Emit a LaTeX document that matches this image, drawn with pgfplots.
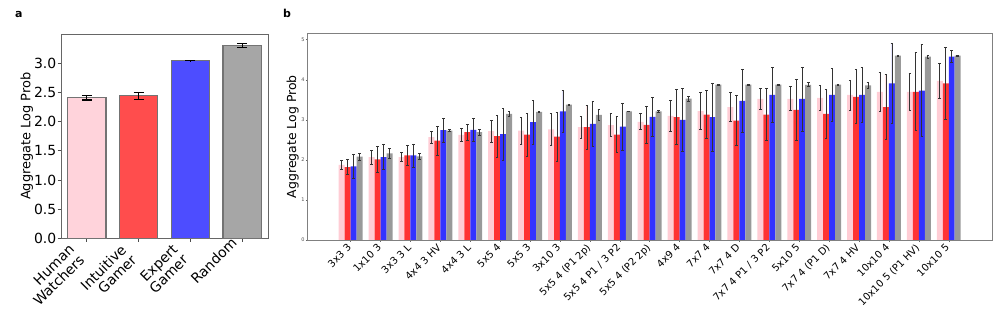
\documentclass[border=0pt]{standalone}
\usepackage{fontspec}
\setmainfont{DejaVu Sans}
\usepackage{pgfplots}
\usepackage{pgfplotstable}
\pgfplotsset{compat=1.18}

\definecolor{pinkA}{RGB}{255,211,219}
\definecolor{redA}{RGB}{255,77,77}
\definecolor{blueA}{RGB}{77,77,255}
\definecolor{grayA}{RGB}{166,166,166}
\definecolor{pinkB}{RGB}{255,205,213}
\definecolor{redB}{RGB}{255,51,51}
\definecolor{blueB}{RGB}{51,51,255}
\definecolor{grayB}{RGB}{153,153,153}

\pgfplotstableread{
x p pe r re b be g ge
0 1.875 0.11 1.82 0.19 1.84 0.30 2.08 0.09
1 2.07 0.18 2.01 0.32 2.07 0.31 2.16 0.12
2 2.07 0.11 2.11 0.25 2.11 0.29 2.09 0.07
3 2.57 0.15 2.48 0.36 2.74 0.29 2.73 0.02
4 2.625 0.16 2.69 0.19 2.75 0.28 2.69 0.08
5 2.72 0.27 2.59 0.53 2.64 0.64 3.15 0.065
6 2.73 0.34 2.63 0.54 2.94 0.55 3.20 0.02
7 2.76 0.40 2.58 0.61 3.21 0.53 3.38 0.01
8 2.82 0.27 2.82 0.55 2.90 0.57 3.125 0.13
9 2.87 0.28 2.63 0.45 2.83 0.59 3.21 0.01
10 2.95 0.20 2.875 0.47 3.075 0.49 3.21 0.02
11 3.10 0.38 3.07 0.68 3.00 0.78 3.53 0.06
12 3.22 0.47 3.13 0.60 3.07 0.85 3.88 0.01
13 3.32 0.36 2.98 0.62 3.475 0.79 3.88 0.01
14 3.52 0.27 3.13 0.65 3.62 0.68 3.88 0.01
15 3.525 0.30 3.25 0.75 3.52 0.80 3.875 0.05
16 3.55 0.31 3.15 0.60 3.62 0.67 3.88 0.01
17 3.62 0.375 3.575 0.675 3.625 0.68 3.86 0.065
18 3.70 0.48 3.32 0.81 3.91 1.01 4.60 0.01
19 3.70 0.46 3.70 0.975 3.73 1.15 4.58 0.04
20 3.975 0.44 3.91 0.91 4.58 0.15 4.60 0.01
}\dataB

\pgfplotsset{
  errA/.style={error bars/.cd, y dir=both, y explicit,
    error bar style={draw=black, line width=1.1bp},
    error mark options={draw=black, rotate=90, mark size=5bp, line width=1.1bp}},
  errB/.style={error bars/.cd, y dir=both, y explicit,
    error bar style={draw=black!80, line width=0.8bp},
    error mark options={draw=black!80, rotate=90, mark size=1.3bp, line width=0.7bp}},
}

\begin{document}
\begin{tikzpicture}
\useasboundingbox (0,0) rectangle (997bp,313bp);
\node[font=\bfseries\fontsize{11}{13}\selectfont, anchor=base west, inner sep=0pt] at (15bp,295bp) {a};
\node[font=\bfseries\fontsize{11}{13}\selectfont, anchor=base west, inner sep=0pt] at (283bp,295bp) {b};

\begin{axis}[
  at={(61bp,74.7bp)}, anchor=south west, scale only axis,
  width=207bp, height=204.3bp,
  xmin=-0.5, xmax=3.5, ymin=0, ymax=3.5,
  ybar, bar width=0.74,
  axis line style={black!60, line width=0.9bp},
  tick style={black!70, line width=0.8bp},
  tick align=outside, tick pos=left, major tick length=3.5bp,
  xtick={0,1,2},
  xticklabels={{Human\\Watchers},{Intuitive\\Gamer},{Expert\\Gamer}},
  xticklabel style={xshift=-19bp, rotate=45, anchor=north east, align=right,
    font=\fontsize{14}{14.5}\selectfont, inner sep=1pt},
  extra x ticks={3},
  extra x tick labels={Random},
  extra x tick style={xticklabel style={xshift=10bp}},
  ytick={0,0.5,...,3.0},
  yticklabel style={font=\fontsize{14}{16}\selectfont, inner sep=1pt,
    /pgf/number format/.cd, fixed, fixed zerofill, precision=1, assume math mode=true},
  ylabel={Aggregate Log Prob},
  ylabel style={font=\fontsize{13}{15}\selectfont, at={(axis description cs:-0.1338,0.5)},
    anchor=south, inner sep=0pt},
]
\addplot[fill=pinkA, draw=black!55, line width=1.2bp, bar shift=0, errA] table[x=x, y=v, y error=e] {
x v e
0 2.41 0.04
};
\addplot[fill=redA, draw=black!55, line width=1.2bp, bar shift=0, errA] table[x=x, y=v, y error=e] {
x v e
1 2.44 0.065
};
\addplot[fill=blueA, draw=black!55, line width=1.2bp, bar shift=0, errA] table[x=x, y=v, y error=e] {
x v e
2 3.045 0.004
};
\addplot[fill=grayA, draw=black!55, line width=1.2bp, bar shift=0, errA] table[x=x, y=v, y error=e] {
x v e
3 3.30 0.035
};
\end{axis}

\begin{axis}[
  at={(307.3bp,73bp)}, anchor=south west, scale only axis,
  width=685.4bp, height=206.7bp,
  xmin=-1.45, xmax=21.47, ymin=0, ymax=5.16,
  ybar, bar width=0.2,
  axis line style={black!50, line width=0.8bp},
  tick style={black!60, line width=0.5bp},
  tick align=outside, tick pos=left, major tick length=1.5bp,
  xtick={0,...,20},
  xticklabels={{3x3 3},{1x10 3},{3x3 3 L},{4x4 3 HV},{4x4 3 L},{5x5 4},{5x5 3},{3x10 3},{5x5 4 (P1 2p)},{5x5 4 P1 / 3 P2},{5x5 4 (P2 2p)},{4x9 4},{7x7 4},{7x7 4 D},{7x7 4 P1 / 3 P2},{5x10 5},{7x7 4 (P1 D)},{7x7 4 HV},{10x10 4},{10x10 5 (P1 HV)},{10x10 5}},
  xticklabel style={xshift=-4bp, rotate=45, anchor=north east, font=\fontsize{10}{12}\selectfont, inner sep=1pt},
  ytick={0,1,2,3,4,5},
  yticklabel style={font=\fontsize{5}{6}\selectfont, text=black!70, inner sep=1pt,
    /pgf/number format/assume math mode=true},
  ylabel={Aggregate Log Prob},
  ylabel style={font=\fontsize{12.5}{14}\selectfont, at={(axis description cs:-0.0121,0.5)},
    anchor=south, inner sep=0pt},
]
\addplot[fill=pinkB, draw=none, bar shift=-0.3, errB] table[x=x, y=p, y error=pe] {\dataB};
\addplot[fill=redB, draw=none, bar shift=-0.1, errB] table[x=x, y=r, y error=re] {\dataB};
\addplot[fill=blueB, draw=none, bar shift=0.1, errB] table[x=x, y=b, y error=be] {\dataB};
\addplot[fill=grayB, draw=none, bar shift=0.3, errB] table[x=x, y=g, y error=ge] {\dataB};
\end{axis}
\end{tikzpicture}
\end{document}
